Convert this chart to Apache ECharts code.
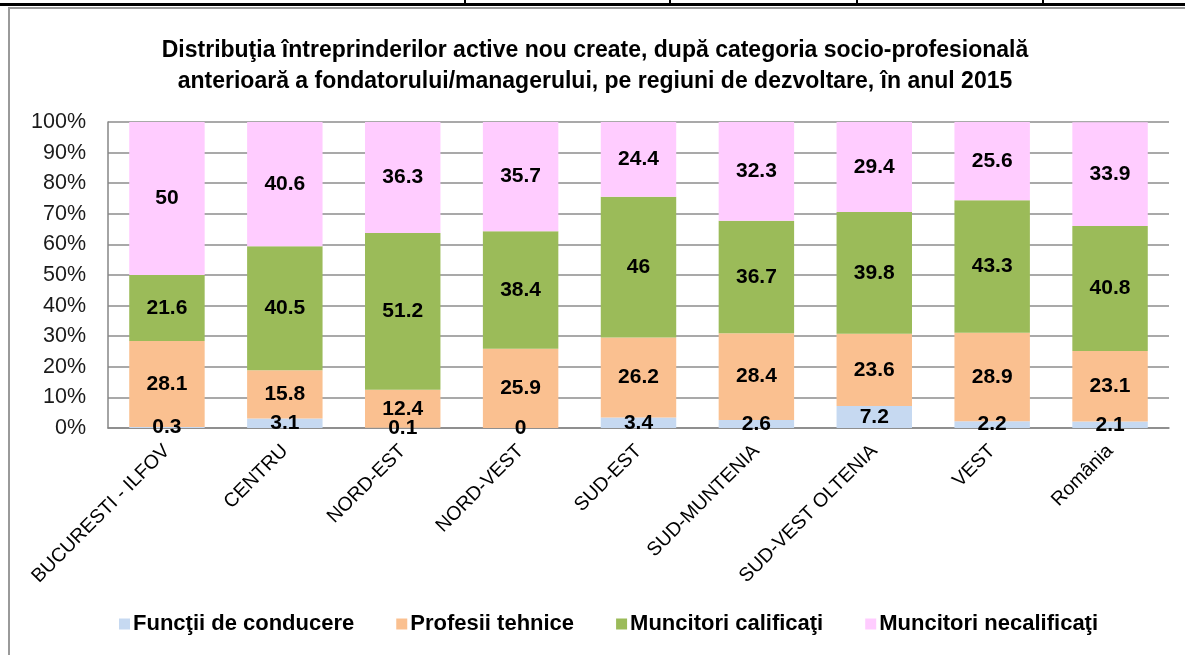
<!DOCTYPE html>
<html>
<head>
<meta charset="utf-8">
<script src="https://cdn.jsdelivr.net/npm/echarts@6/dist/echarts.min.js"></script>
<style>
html,body{margin:0;padding:0;background:#fff;}
#c{width:1185px;height:655px;}
</style>
</head>
<body>
<div id="c"></div>
<script>
const categories = ["BUCURESTI - ILFOV","CENTRU","NORD-EST","NORD-VEST","SUD-EST","SUD-MUNTENIA","SUD-VEST OLTENIA","VEST","România"];
const seriesNames = ["Funcţii de conducere","Profesii tehnice","Muncitori calificaţi","Muncitori necalificaţi"];
const functiiConducere = [0.3, 3.1, 0.1, 0, 3.4, 2.6, 7.2, 2.2, 2.1];
const profesiiTehnice = [28.1, 15.8, 12.4, 25.9, 26.2, 28.4, 23.6, 28.9, 23.1];
const muncitoriCalificati = [21.6, 40.5, 51.2, 38.4, 46, 36.7, 39.8, 43.3, 40.8];
const muncitoriNecalificati = [50, 40.6, 36.3, 35.7, 24.4, 32.3, 29.4, 25.6, 33.9];
const yTicks = ["0%","10%","20%","30%","40%","50%","60%","70%","80%","90%","100%"];
const colors = ["#C6D9F1","#FAC090","#9BBB59","#FFCCFF"];
const titleLines = ["Distribuţia întreprinderilor active nou create, după categoria socio-profesională","anterioară a fondatorului/managerului, pe regiuni de dezvoltare, în anul 2015"];

const FONT = "'Liberation Sans', Arial, sans-serif";
const chart = echarts.init(document.getElementById('c'), null, {renderer:'canvas'});
const dataSets = [functiiConducere, profesiiTehnice, muncitoriCalificati, muncitoriNecalificati];

const series = dataSets.map((d,i)=>({
  name: seriesNames[i],
  type: 'bar',
  stack: 'total',
  data: d,
  barCategoryGap: '36%',
  itemStyle: {color: colors[i]},
  label: {
    show: true,
    position: 'inside',
    color: '#000',
    fontFamily: FONT,
    fontWeight: 'bold',
    fontSize: 21,
    formatter: p => String(p.value)
  },
  emphasis: {disabled: true}
}));

chart.setOption({
  animation: false,
  backgroundColor: '#fff',
  color: colors,
  title: {
    text: titleLines.join('\n'),
    left: 590,
    textAlign: 'center',
    top: 30,
    textStyle: {fontFamily: FONT, fontWeight: 'bold', fontSize: 23, lineHeight: 31, color: '#000'}
  },
  grid: {left: 108, right: 16, top: 122, bottom: 227, containLabel: false},
  xAxis: {
    type: 'category',
    data: categories,
    axisLine: {show: true, lineStyle: {color: '#868686', width: 1.5}},
    axisTick: {show: false},
    axisLabel: {
      rotate: 45,
      interval: 0,
      margin: 20,
      fontFamily: FONT,
      fontSize: 19.5,
      color: '#000'
    }
  },
  yAxis: {
    type: 'value',
    min: 0,
    max: 100,
    interval: 10,
    axisLine: {show: true, lineStyle: {color: '#868686', width: 1.5}},
    axisTick: {show: false},
    splitLine: {show: true, lineStyle: {color: '#8c8c8c', width: 1.5}},
    axisLabel: {
      margin: 22,
      fontFamily: FONT,
      fontSize: 21.5,
      color: '#1a1a1a',
      formatter: v => yTicks[Math.round(v/10)]
    }
  },
  legend: {
    data: seriesNames,
    left: 114,
    top: 608,
    icon: 'rect',
    itemWidth: 11,
    itemHeight: 11,
    itemGap: 42,
    textStyle: {fontFamily: FONT, fontWeight: 'bold', fontSize: 22, color: '#000', padding: [0,0,0,-2]}
  },
  graphic: [
    {type:'rect', shape:{x:0,y:3,width:1185,height:3}, style:{fill:'#000'}, silent:true},
    {type:'rect', shape:{x:464,y:0,width:2,height:5}, style:{fill:'#000'}, silent:true},
    {type:'rect', shape:{x:669,y:0,width:2,height:5}, style:{fill:'#000'}, silent:true},
    {type:'rect', shape:{x:856,y:0,width:2,height:5}, style:{fill:'#000'}, silent:true},
    {type:'rect', shape:{x:1042,y:0,width:2,height:5}, style:{fill:'#000'}, silent:true},
    {type:'rect', shape:{x:8,y:7,width:1177,height:2}, style:{fill:'#9a9a9a'}, silent:true},
    {type:'rect', shape:{x:8,y:7,width:2,height:648}, style:{fill:'#9a9a9a'}, silent:true}
  ],
  series: series
});
</script>
</body>
</html>
